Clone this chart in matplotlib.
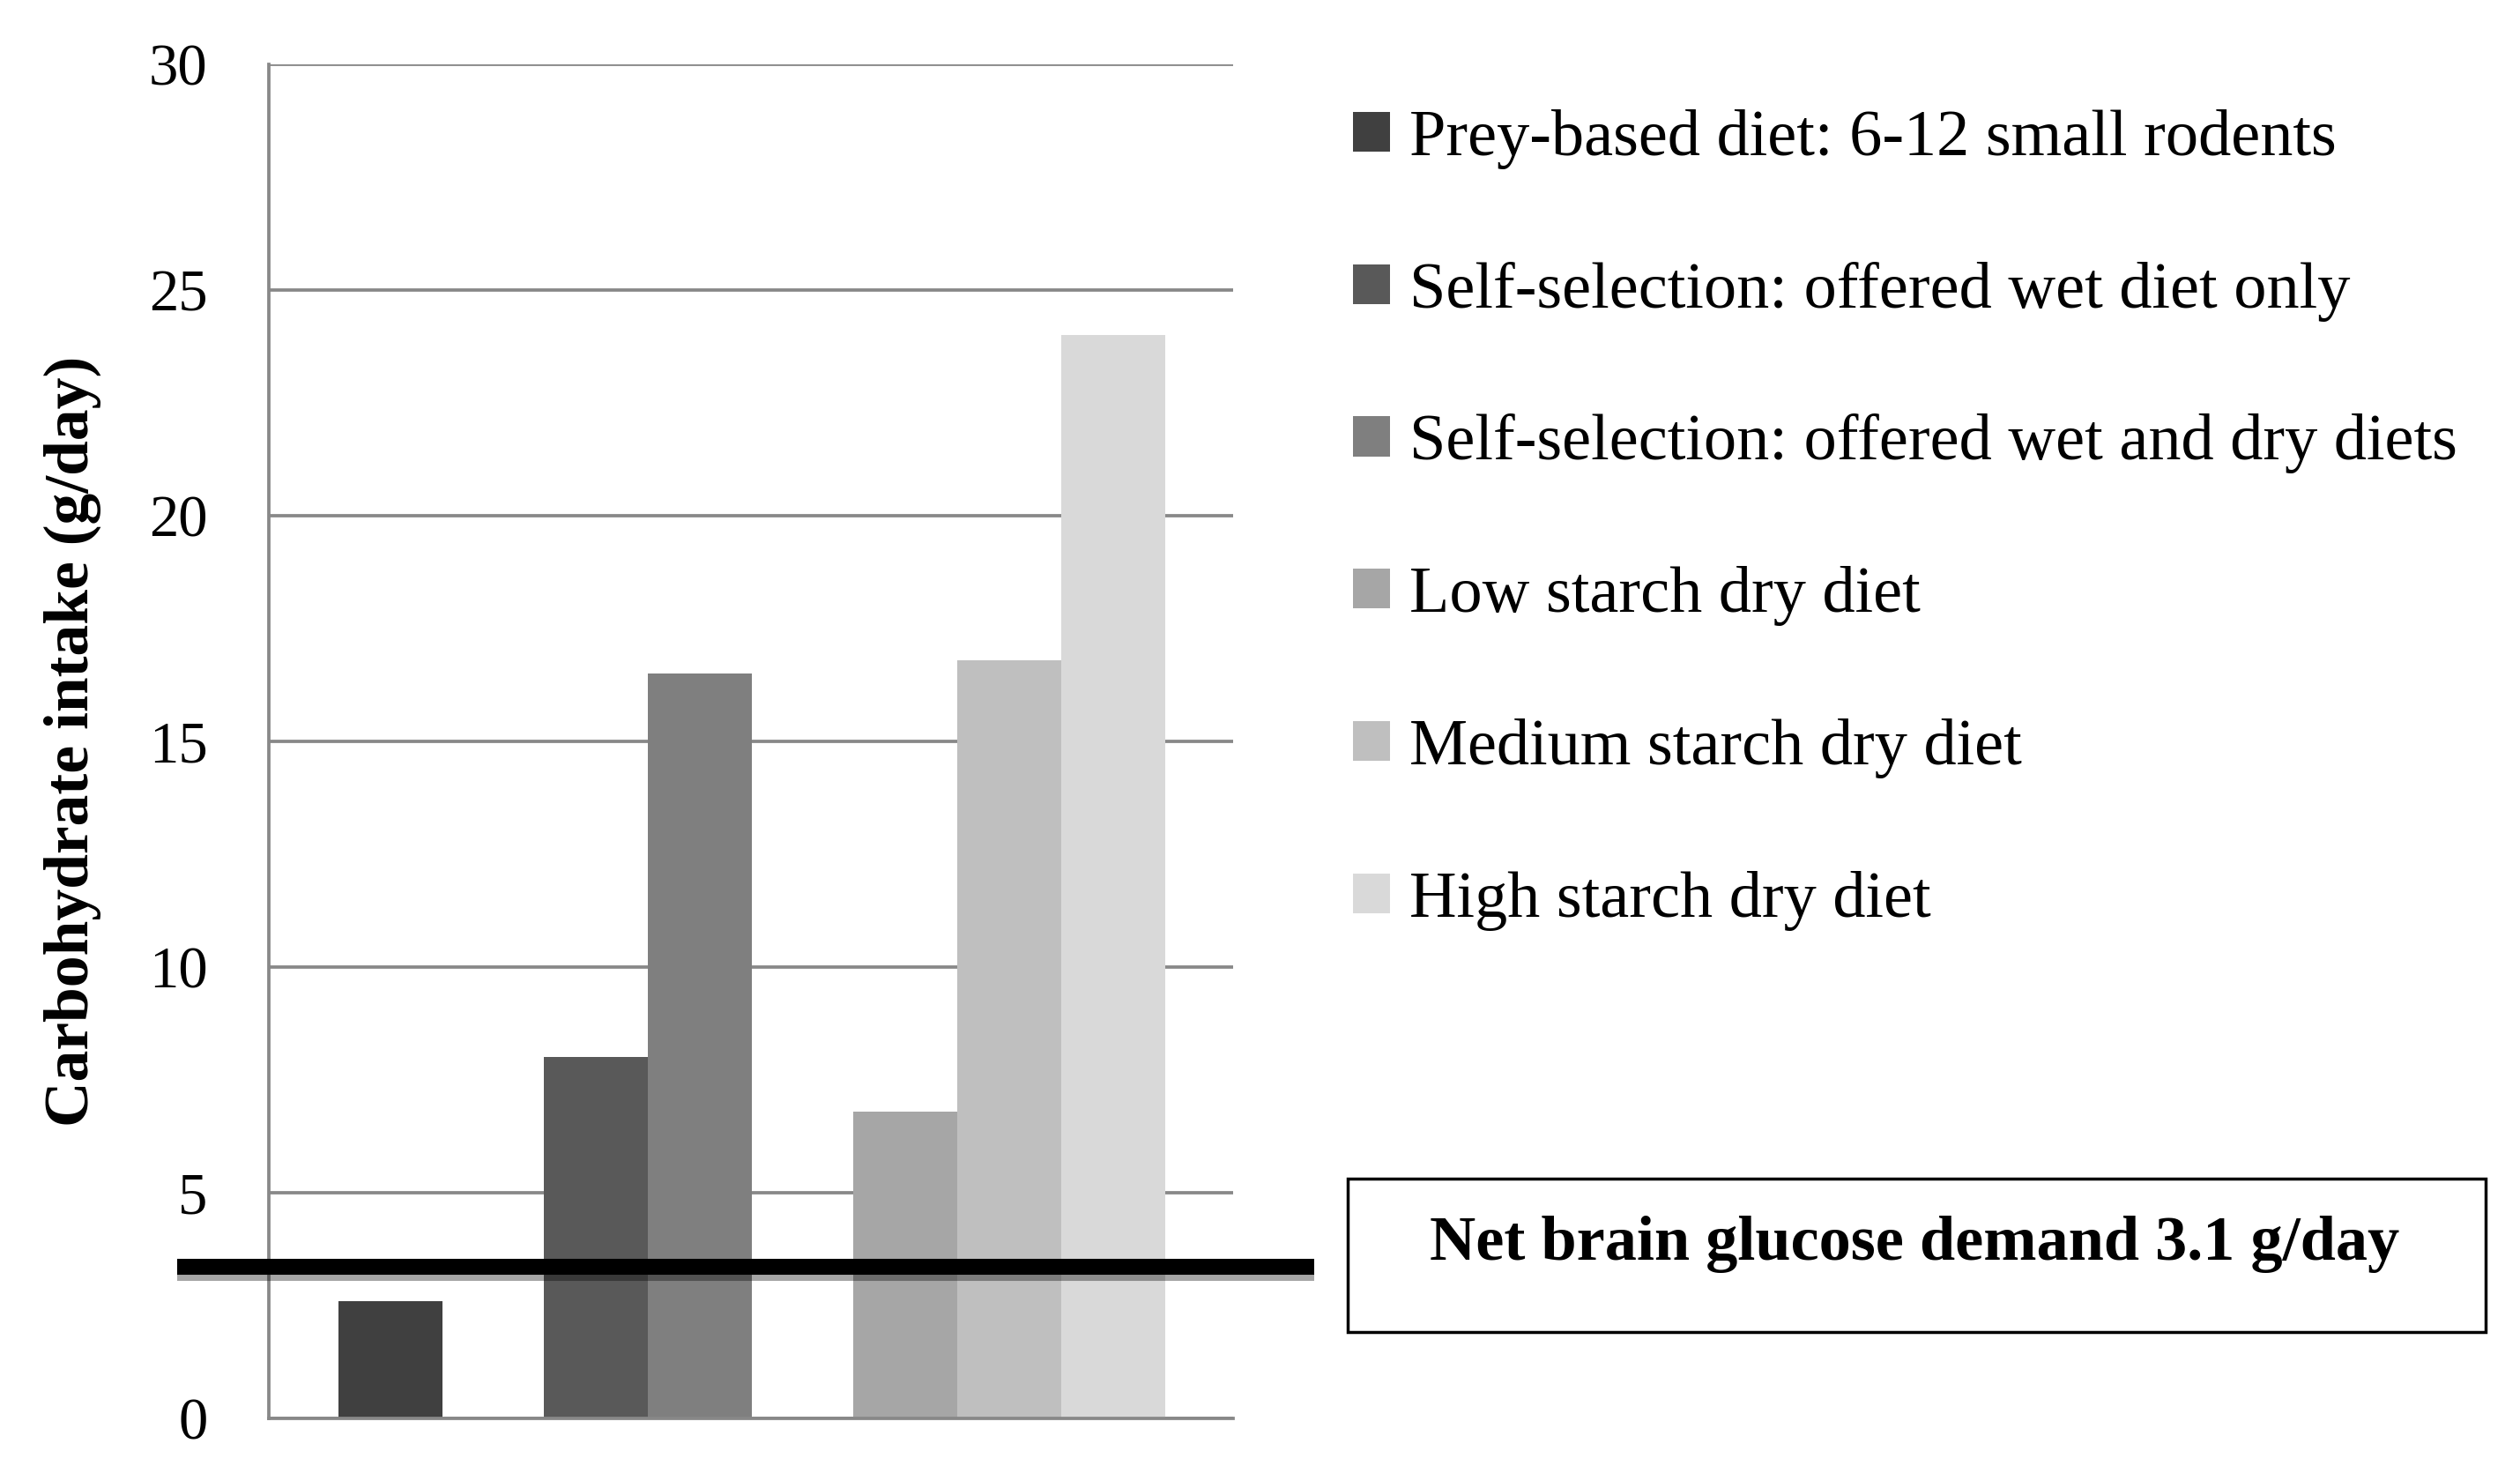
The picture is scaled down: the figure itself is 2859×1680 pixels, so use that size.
import numpy as np
import matplotlib
matplotlib.use("Agg")
import matplotlib.pyplot as plt
import matplotlib.patheffects as pe
from matplotlib.patches import Rectangle

# data
diets = ["Prey-based diet: 6-12 small rodents",
         "Self-selection: offered wet diet only",
         "Self-selection: offered wet and dry diets",
         "Low starch dry diet",
         "Medium starch dry diet",
         "High starch dry diet"]
intake = [2.6, 8.0, 16.5, 6.8, 16.8, 24.0]
group_sizes = [1, 2, 3]
greys = ["#404040", "#595959", "#7f7f7f", "#a6a6a6", "#bfbfbf", "#d9d9d9"]
demand_level = 3.35
demand_label = "Net brain glucose demand 3.1 g/day"
yticks = [0, 5, 10, 15, 20, 25, 30]

plt.rcParams['font.family'] = ['Liberation Serif', 'DejaVu Serif']

fig = plt.figure(figsize=(28.59, 16.8), dpi=100)
ax = fig.add_axes([0.1067, 0.0423, 0.3826, 0.9142])

# bar positions: groups separated by roughly one empty slot
gap = 0.97
pos = []
x = 0
for g in group_sizes:
    for i in range(g):
        pos.append(x)
        x += 1
    x += gap

bars = []
for p, v, c, lab in zip(pos, intake, greys, diets):
    b = ax.bar(p, v, width=1.0, color=c, label=lab, zorder=2)
    bars.append(b)

ax.set_xlim(-1.166, 8.09)
ax.set_ylim(0, 30)
ax.set_yticks(yticks)
ax.yaxis.grid(True, color="#888888", linewidth=2.7, zorder=0)
ax.set_axisbelow(True)
ax.tick_params(axis='y', length=0, pad=50, labelsize=48)
ax.tick_params(axis='x', length=0, labelbottom=False)
for s in ['top', 'right']:
    ax.spines[s].set_visible(False)
for s in ['left', 'bottom']:
    ax.spines[s].set_color("#888888")
    ax.spines[s].set_linewidth(2.7)
ax.set_ylabel("Carbohydrate intake (g/day)", fontsize=51.5, fontweight='bold')
ax.yaxis.set_label_coords(-0.174, 0.5)

# demand line extending beyond the axes
trans = matplotlib.transforms.blended_transform_factory(ax.transAxes, ax.transData)
ax.plot([-0.095, 1.084], [demand_level, demand_level], color='black', linewidth=13,
        transform=trans, clip_on=False, zorder=5, solid_capstyle='butt',
        path_effects=[pe.SimpleLineShadow(offset=(0, -5), shadow_color='black', alpha=0.35),
                      pe.Normal()])

fig.legend(handles=[b[0] for b in bars], labels=diets, loc='upper left',
           bbox_to_anchor=(0.5265, 0.944), frameon=False, fontsize=53.5,
           labelspacing=1.41, handlelength=0.56, handleheight=0.56, handletextpad=0.3,
           borderaxespad=0)

fig.patches.append(Rectangle((1529 / 2859, 1 - 1511 / 1680), (2820 - 1529) / 2859,
                             (1511 - 1337) / 1680, transform=fig.transFigure,
                             fill=False, edgecolor='black', linewidth=2.5))
fig.text(2172 / 2859, 1 - 1412 / 1680, demand_label, ha='center', va='center',
         fontsize=52, fontweight='bold')

fig.savefig("out.png", dpi=100)
